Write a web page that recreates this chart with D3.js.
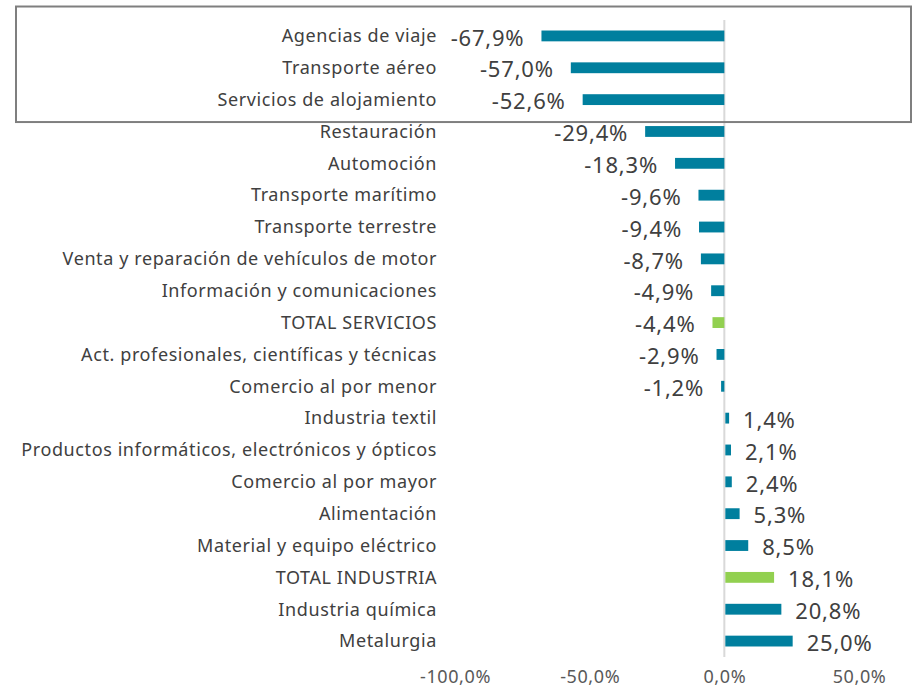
<!DOCTYPE html>
<html>
<head>
<meta charset="utf-8">
<script src="https://cdn.jsdelivr.net/npm/d3@7"></script>
<style>
  body { margin: 0; background: #fff; }
  svg { display: block; font-family: "Noto Sans", sans-serif; }
</style>
</head>
<body>
<div class="plot"></div>
<script>
const categories = [
    "Agencias de viaje", "Transporte aéreo", "Servicios de alojamiento", "Restauración",
    "Automoción", "Transporte marítimo", "Transporte terrestre",
    "Venta y reparación de vehículos de motor", "Información y comunicaciones",
    "TOTAL SERVICIOS", "Act. profesionales, científicas y técnicas", "Comercio al por menor",
    "Industria textil", "Productos informáticos, electrónicos y ópticos", "Comercio al por mayor",
    "Alimentación", "Material y equipo eléctrico", "TOTAL INDUSTRIA", "Industria química", "Metalurgia"
];
const values = [-67.9, -57.0, -52.6, -29.4, -18.3, -9.6, -9.4, -8.7, -4.9, -4.4, -2.9, -1.2,
    1.4, 2.1, 2.4, 5.3, 8.5, 18.1, 20.8, 25.0];
const totals = ["TOTAL SERVICIOS", "TOTAL INDUSTRIA"];
const highlighted = ["Agencias de viaje", "Transporte aéreo", "Servicios de alojamiento"];
const tickValues = [-100, -50, 0, 50];

const W = 918, H = 689;
const svg = d3.select(".plot")
    .append("svg")
        .attr("width", W)
        .attr("height", H);

// Spanish number format: comma decimal, plain hyphen for minus
const locale = d3.formatLocale({decimal: ",", thousands: ".", grouping: [3], currency: ["", "€"], minus: "-"});
const fmt = locale.format(".1f");

const x = d3.scaleLinear().domain([-100, 50]).range([455, 859]);
const y = d3.scaleBand().domain(categories).range([20, 657]).paddingInner(0.66).paddingOuter(0.33);

// zero line
svg.append("line")
    .attr("x1", x(0)).attr("x2", x(0))
    .attr("y1", 20).attr("y2", 657)
    .attr("stroke", "#d9d9d9")
    .attr("stroke-width", 2);

// bars
svg.selectAll("rect.bar")
    .data(categories)
    .enter()
    .append("rect")
        .attr("class", "bar")
        .attr("x", (d, i) => x(Math.min(0, values[i])) + (values[i] > 0 ? 1 : 0))
        .attr("y", d => y(d))
        .attr("width", (d, i) => Math.abs(x(values[i]) - x(0)))
        .attr("height", y.bandwidth())
        .attr("fill", d => totals.includes(d) ? "#92d050" : "#007f9e");

// category labels
svg.selectAll("text.cat")
    .data(categories)
    .enter()
    .append("text")
        .attr("class", "cat")
        .attr("x", 437)
        .attr("y", d => y(d) + y.bandwidth() / 2)
        .attr("dy", "0.35em")
        .attr("text-anchor", "end")
        .style("font-size", "18px")
        .style("letter-spacing", "0.6px")
        .style("fill", "#404040")
        .text(d => d);

// value labels
svg.selectAll("text.val")
    .data(categories)
    .enter()
    .append("text")
        .attr("class", "val")
        .attr("x", (d, i) => values[i] < 0 ? x(values[i]) - 17 : x(values[i]) + 15)
        .attr("y", d => y(d) + y.bandwidth() / 2 + 2)
        .attr("dy", "0.35em")
        .attr("text-anchor", (d, i) => values[i] < 0 ? "end" : "start")
        .style("font-size", "22px")
        .style("letter-spacing", "0.8px")
        .style("fill", "#404040")
        .text((d, i) => fmt(values[i]) + "%");

// x axis (labels only)
const axis = d3.axisBottom(x)
    .tickValues(tickValues)
    .tickSize(0)
    .tickFormat(d => fmt(d) + "%");
const gx = svg.append("g")
    .attr("transform", "translate(0,667)")
    .call(axis);
gx.select(".domain").remove();
gx.selectAll("text")
    .style("font-size", "18px")
    .style("letter-spacing", "0.6px")
    .style("font-family", "'Noto Sans', sans-serif")
    .style("fill", "#595959");

// highlight box around first three rows
const y0 = y(highlighted[0]), y1 = y(highlighted[highlighted.length - 1]) + y.bandwidth();
svg.append("rect")
    .attr("x", 16)
    .attr("y", y0 - 24)
    .attr("width", 895)
    .attr("height", (y1 - y0) + 41)
    .attr("fill", "none")
    .attr("stroke", "#7f7f7f")
    .attr("stroke-width", 2);
</script>
</body>
</html>
